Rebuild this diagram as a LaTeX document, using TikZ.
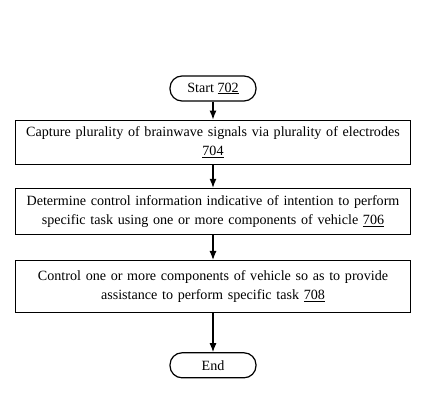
\documentclass[tikz,border=0pt]{standalone}
\usepackage{fontspec}
\setmainfont{Liberation Serif}
\usepackage{tikz}
\usetikzlibrary{arrows.meta,positioning}

\begin{document}
\begin{tikzpicture}[
  x=1pt, y=-1pt,
  font=\fontsize{14.1}{19.5}\selectfont,
  term/.style={rectangle, draw=black, line width=1.2pt, rounded corners=12pt,
               minimum width=86pt, minimum height=25pt, inner sep=0pt},
  stepbox/.style={rectangle, draw=black, line width=1.2pt, text width=385pt,
                  minimum width=395pt, inner sep=0pt, align=center},
  arr/.style={-{Latex[length=9pt,width=7pt]}, line width=1.2pt},
]
  \useasboundingbox[fill=white] (0,0) rectangle (426,395);

  \node[term] (start) at (213,88.5) {Start \underline{702}};
  \node[stepbox, minimum height=44pt, below=18pt of start] (capture)
    {Capture plurality of brainwave signals via plurality of electrodes\\\underline{704}};
  \node[stepbox, minimum height=46pt, below=23pt of capture] (determine)
    {Determine control information indicative of intention to perform\\specific task using one or more components of vehicle \underline{706}};
  \node[stepbox, minimum height=52pt, below=25pt of determine] (control)
    {Control one or more components of vehicle so as to provide\\assistance to perform specific task \underline{708}};
  \node[term, below=39pt of control] (end) {End};

  \draw[arr] (start) -- (capture);
  \draw[arr] (capture) -- (determine);
  \draw[arr] (determine) -- (control);
  \draw[arr] (control) -- (end);
\end{tikzpicture}
\end{document}
